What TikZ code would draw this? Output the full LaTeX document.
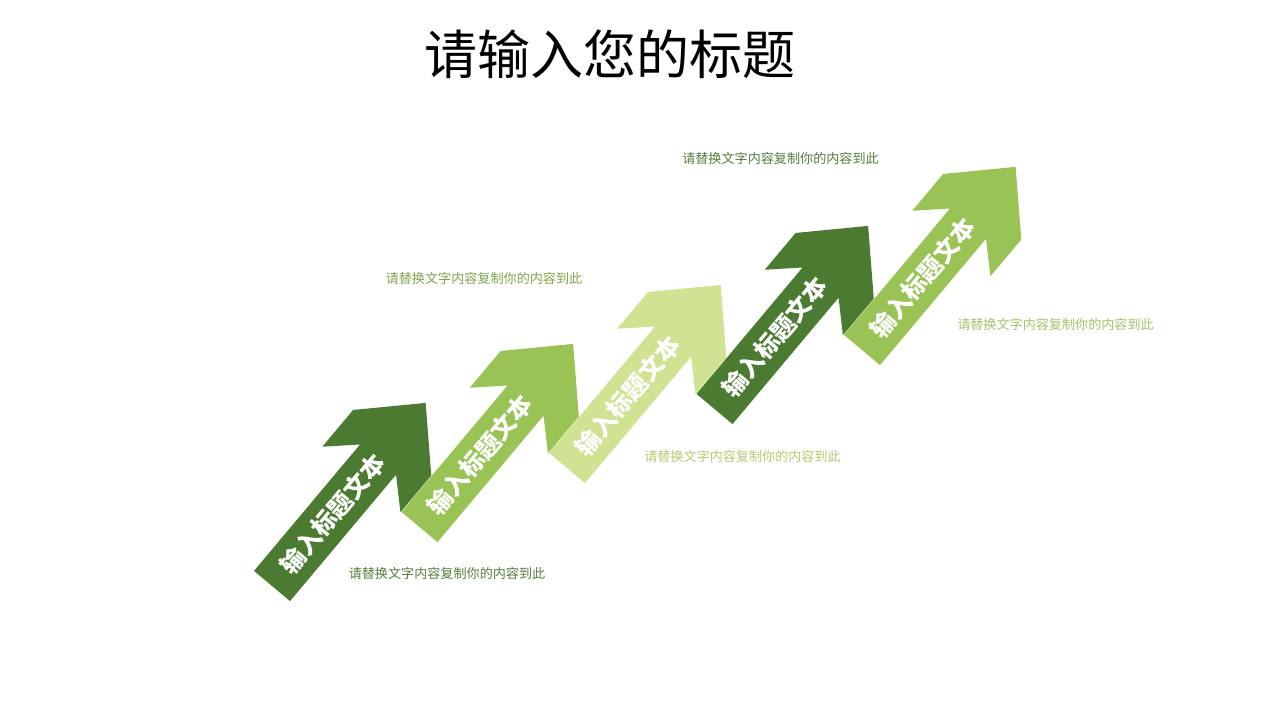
\documentclass[tikz,border=0pt]{standalone}
\usepackage{fontspec}
\newfontfamily\cjk{Noto Sans CJK SC}
\definecolor{gdark}{HTML}{4A7B31}
\definecolor{gmid}{HTML}{9AC356}
\definecolor{gpale}{HTML}{D0E392}
\definecolor{tdark}{HTML}{557E3B}
\definecolor{tmid}{HTML}{7FA64A}
\definecolor{tpale}{HTML}{B4CD6E}
\definecolor{tmid5}{HTML}{A2C567}
\tikzset{
  arrowtext/.style={text=white, font=\cjk\bfseries\fontsize{24.5}{24.5}\selectfont, rotate=50, inner sep=0pt},
  desc/.style={font=\cjk\fontsize{13.1}{13.5}\selectfont, inner sep=0pt},
  titletext/.style={font=\cjk\fontsize{53}{53}\selectfont, text=black, inner sep=0pt}
}
\newcommand{\bigarrow}[4]{%
  \begin{scope}[shift={#1}, rotate=50]
    \fill[#2] (0,-23.5) -- (0,23.5) -- (165,23.5) -- (139,51) -- (187,51) -- (239,0)
      -- (187,-51) -- (139,-51) -- (165,-23.5) -- cycle;
    \node[arrowtext] (#3) at (94,0) {#4};
  \end{scope}}
\begin{document}
\begin{tikzpicture}[x=1pt,y=1pt]
\useasboundingbox (0,0) rectangle (1280,720);
\fill[white] (0,0) rectangle (1280,720);
\node[titletext] (title) at (610,666) {请输入您的标题};
\bigarrow{(272,134)}{gdark}{a1}{输入标题文本}
\bigarrow{(419.5,193)}{gmid}{a2}{输入标题文本}
\bigarrow{(567,252)}{gpale}{a3}{输入标题文本}
\bigarrow{(714.5,311)}{gdark}{a4}{输入标题文本}
\bigarrow{(862,370)}{gmid}{a5}{输入标题文本}
\node[desc, text=tdark] (d1) at (447,147) {请替换文字内容复制你的内容到此};
\node[desc, text=tmid] (d2) at (484,442) {请替换文字内容复制你的内容到此};
\node[desc, text=tpale] (d3) at (742.5,264) {请替换文字内容复制你的内容到此};
\node[desc, text=tdark] (d4) at (780.5,562) {请替换文字内容复制你的内容到此};
\node[desc, text=tmid5] (d5) at (1055.5,396) {请替换文字内容复制你的内容到此};
\end{tikzpicture}
\end{document}
